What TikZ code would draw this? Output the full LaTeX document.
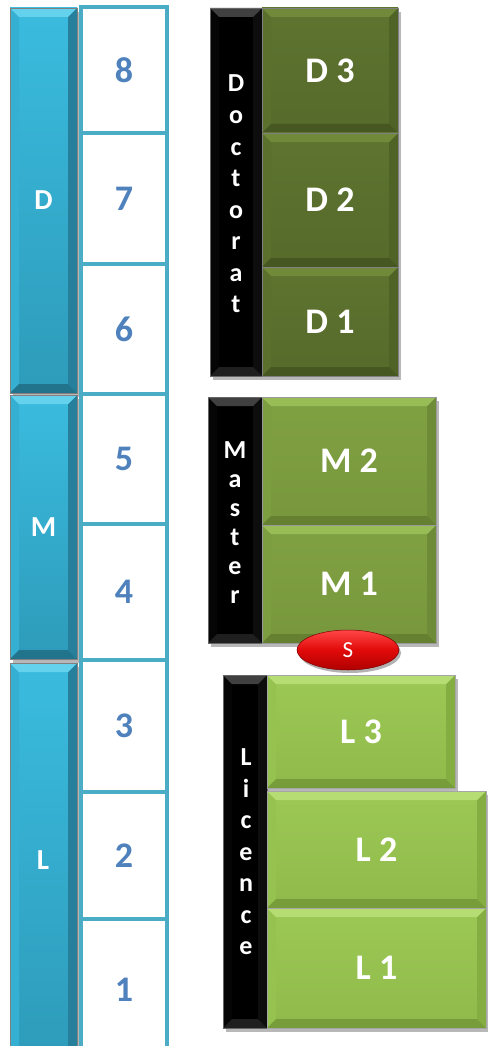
\documentclass[tikz,border=0pt]{standalone}
\usepackage{fontspec}
\setmainfont{Carlito}
\usetikzlibrary{shapes.geometric,shadows}
\definecolor{numblue}{HTML}{4F81BD}
\definecolor{cellteal}{HTML}{4BACC6}
% dark green (Doctorat)
\definecolor{dgT}{RGB}{94,116,47}\definecolor{dgB}{RGB}{86,106,43}
\definecolor{dgBt}{RGB}{112,138,58}\definecolor{dgBb}{RGB}{70,87,34}
\definecolor{dgBl}{RGB}{91,112,45}\definecolor{dgBr}{RGB}{80,99,39}
% mid green (Master)
\definecolor{mgT}{RGB}{128,161,66}\definecolor{mgB}{RGB}{120,151,61}
\definecolor{mgBt}{RGB}{152,188,86}\definecolor{mgBb}{RGB}{100,128,48}
\definecolor{mgBl}{RGB}{124,157,64}\definecolor{mgBr}{RGB}{110,140,55}
% light green (Licence)
\definecolor{lgT}{RGB}{156,200,86}\definecolor{lgB}{RGB}{144,187,74}
\definecolor{lgBt}{RGB}{182,220,116}\definecolor{lgBb}{RGB}{118,157,58}
\definecolor{lgBl}{RGB}{150,194,80}\definecolor{lgBr}{RGB}{132,174,66}
% blue bars
\definecolor{blT}{RGB}{58,188,223}\definecolor{blB}{RGB}{46,155,186}
\definecolor{blBt}{RGB}{100,210,236}\definecolor{blBb}{RGB}{34,115,140}
\definecolor{blBl}{RGB}{54,176,210}\definecolor{blBr}{RGB}{38,128,156}
% red badge
\definecolor{rdT}{RGB}{255,70,70}\definecolor{rdM}{RGB}{225,10,10}\definecolor{rdB}{RGB}{175,0,0}
\newcommand\bv{9}
\newcommand\bevelfill[4]{%
  \path (path picture bounding box.north west) coordinate (pNW)
        (path picture bounding box.north east) coordinate (pNE)
        (path picture bounding box.south west) coordinate (pSW)
        (path picture bounding box.south east) coordinate (pSE);
  \fill[#3] (pNW) -- (pSW) -- ([shift={(\bv,-\bv)}]pSW) -- ([shift={(\bv,\bv)}]pNW) -- cycle;
  \fill[#4] (pNE) -- (pSE) -- ([shift={(-\bv,-\bv)}]pSE) -- ([shift={(-\bv,\bv)}]pNE) -- cycle;
  \fill[#1] (pNW) -- (pNE) -- ([shift={(-\bv,\bv)}]pNE) -- ([shift={(\bv,\bv)}]pNW) -- cycle;
  \fill[#2] (pSW) -- (pSE) -- ([shift={(-\bv,-\bv)}]pSE) -- ([shift={(\bv,-\bv)}]pSW) -- cycle;
}
\tikzset{
  base/.style={inner sep=0pt, outer sep=0pt, text=white, font=\fontsize{36}{40}\selectfont\bfseries,
    drop shadow={shadow xshift=3pt, shadow yshift=-4pt, opacity=0.28, fill=black}},
  dgreen/.style={base, draw=black!50, line width=0.6pt, top color=dgT, bottom color=dgB,
    path picture={\bevelfill{dgBt}{dgBb}{dgBl}{dgBr}}},
  mgreen/.style={base, draw=black!40, line width=0.6pt, top color=mgT, bottom color=mgB,
    path picture={\bevelfill{mgBt}{mgBb}{mgBl}{mgBr}}},
  lgreen/.style={base, draw=black!35, line width=0.6pt, top color=lgT, bottom color=lgB,
    path picture={\bevelfill{lgBt}{lgBb}{lgBl}{lgBr}}},
  blackbar/.style={base, draw=black!60, line width=0.6pt, fill=black,
    path picture={\bevelfill{black!75}{black!88}{black!98}{black!95}}},
  bluebar/.style={base, draw=black!50, line width=0.8pt, top color=blT, bottom color=blB,
    font=\fontsize{29}{34}\selectfont\bfseries,
    path picture={\bevelfill{blBt}{blBb}{blBl}{blBr}}},
  cell/.style={inner sep=0pt, outer sep=0pt, fill=white, draw=cellteal, line width=4pt, text=numblue,
    font=\fontsize{36}{40}\selectfont\bfseries},
  vletter/.style={inner sep=0pt, text=white, font=\fontsize{26}{30}\selectfont\bfseries, anchor=base},
  sbadge/.style={ellipse, inner sep=0pt, minimum width=102pt, minimum height=40pt, draw=rdB!70!black, line width=0.5pt,
    top color=rdT, bottom color=rdB, middle color=rdM,
    text=white, font=\fontsize{23}{26}\selectfont,
    drop shadow={shadow xshift=2pt, shadow yshift=-3pt, opacity=0.3, fill=black}}
}
\newcommand\bx[7]{\node[#6, minimum width={#4-#2}, minimum height={#5-#3}] (#1) at ({(#2+#4)/2},{(#3+#5)/2}) {#7};}
\begin{document}
\begin{tikzpicture}[x=1pt,y=-1pt]
\useasboundingbox[fill=white] (0,0) rectangle (487,1046);
% blue level bars
\bx{barD}{10}{8}{77}{393}{bluebar}{D}
\bx{barM}{10}{395}{77}{659}{bluebar}{M}
\bx{barL}{10}{663}{77}{1060}{bluebar}{}
\node[inner sep=0pt, text=white, font=\fontsize{29}{34}\selectfont\bfseries] (barLtxt) at (43,860) {L};
% semester cells
\bx{c8}{81}{7}{167}{133}{cell}{8}
\bx{c7}{81}{133}{167}{264}{cell}{7}
\bx{c6}{81}{264}{167}{394}{cell}{6}
\bx{c5}{81}{394}{167}{524}{cell}{5}
\bx{c4}{81}{524}{167}{660}{cell}{4}
\bx{c3}{81}{660}{167}{792}{cell}{3}
\bx{c2}{81}{792}{167}{919}{cell}{2}
\bx{c1}{81}{919}{167}{1060}{cell}{1}
% Doctorat
\bx{docbar}{210}{8}{262}{376}{blackbar}{}
\bx{d3}{262}{8}{398}{133}{dgreen}{D 3}
\bx{d2}{262}{133}{398}{267}{dgreen}{D 2}
\bx{d1}{262}{267}{398}{376}{dgreen}{D 1}
\foreach \ch/\yy [count=\i] in {D/92,o/123.5,c/155,t/186.5,o/218,r/249.5,a/281,t/312.5}
  \node[vletter] (doc\i) at (236,\yy) {\ch};
% Master
\bx{masbar}{208}{397}{262}{643}{blackbar}{}
\bx{m2}{262}{397}{436}{525}{mgreen}{M 2}
\bx{m1}{262}{525}{436}{643}{mgreen}{M 1}
\foreach \ch/\yy [count=\i] in {M/458.5,a/487.5,s/516.5,t/545.5,e/574.5,r/603.5}
  \node[vletter] (mas\i) at (235,\yy) {\ch};
% S badge
\node[sbadge] (s) at (348,650) {S};
% Licence
\bx{licbar}{223}{675}{267}{1028}{blackbar}{}
\bx{l3}{267}{675}{455}{788}{lgreen}{L 3}
\bx{l2}{267}{791}{486}{908}{lgreen}{L 2}
\bx{l1}{267}{908}{486}{1028}{lgreen}{L 1}
\foreach \ch/\yy [count=\i] in {L/765.5,i/797,c/828.5,e/860,n/891.5,c/923,e/954.5}
  \node[vletter] (lic\i) at (246,\yy) {\ch};
\end{tikzpicture}
\end{document}
